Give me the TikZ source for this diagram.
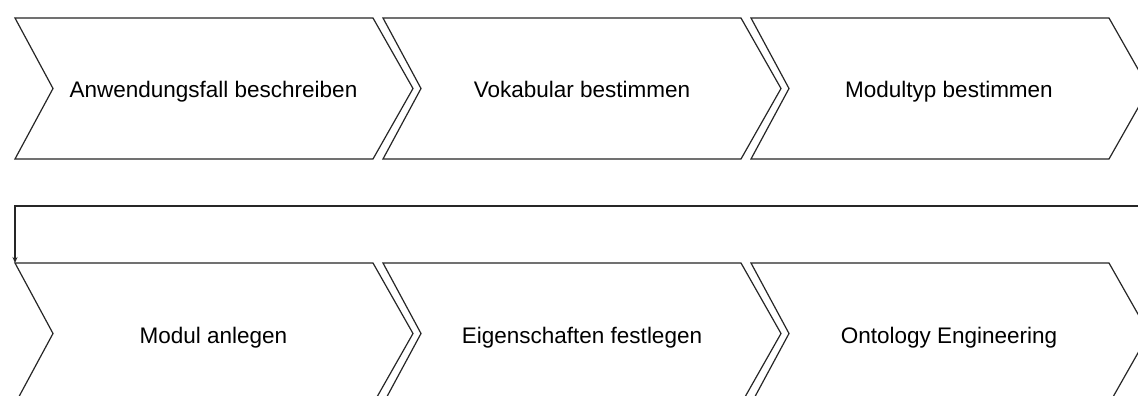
\documentclass[tikz,border=0pt]{standalone}
\usepackage{fontspec}
\setmainfont{Liberation Sans}
\usetikzlibrary{arrows.meta}
\tikzset{
  chevline/.style={draw=black!85, line width=1.2pt, line join=miter, fill=white},
  steplabel/.style={anchor=base, inner sep=0pt, font=\fontsize{22.5}{26}\selectfont},
  conn/.style={draw=black!85, line width=1.1pt, -{Stealth[length=6pt,width=5pt]}}
}
\newcommand{\mychevron}[3]{% #1 name, #2 left x, #3 top y
  \draw[chevline] (#2,#3) coordinate (#1nw) -- ++(358,0) -- ++(40,70.5) coordinate (#1tip)
    -- ++(-40,70.5) -- ++(-358,0) -- ++(38,-70.5) -- cycle;
}
\begin{document}
\begin{tikzpicture}[x=1pt,y=-1pt]
\useasboundingbox (0,0) rectangle (1138,396);
\clip (0,0) rectangle (1138,396);
\fill[white] (0,0) rectangle (1138,396);
% top row
\mychevron{c1}{15}{18}
\mychevron{c2}{383}{18}
\mychevron{c3}{751}{18}
% bottom row
\mychevron{c4}{15}{263}
\mychevron{c5}{383}{263}
\mychevron{c6}{751}{263}
% labels
\node[steplabel] (t1) at (213.5,98) {Anwendungsfall beschreiben};
\node[steplabel] (t2) at (582,98) {Vokabular bestimmen};
\node[steplabel] (t3) at (949,98) {Modultyp bestimmen};
\node[steplabel] (t4) at (213.5,343) {Modul anlegen};
\node[steplabel] (t5) at (582,343) {Eigenschaften festlegen};
\node[steplabel] (t6) at (949,343) {Ontology Engineering};
% connector from row 1 to row 2
\coordinate (turn) at (1165,206);
\draw[conn] (c3tip) -| (turn) -| (c4nw);
\end{tikzpicture}
\end{document}
